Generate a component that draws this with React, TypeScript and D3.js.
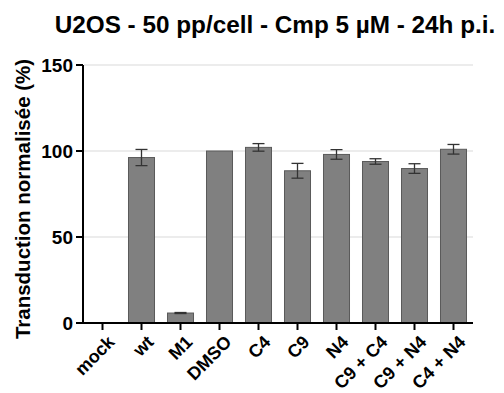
import React from "react";
import * as d3 from "d3";

const categories = ["mock", "wt", "M1", "DMSO", "C4", "C9", "N4", "C9 + C4", "C9 + N4", "C4 + N4"];
const means = [0, 96.2, 5.8, 100, 102.1, 88.5, 98.0, 93.9, 89.8, 101.0];
const errors = [0, 4.7, 0.3, 0, 2.2, 4.3, 2.8, 1.6, 2.8, 2.8];
const yTicks = [0, 50, 100, 150];
const title = "U2OS - 50 pp/cell - Cmp 5 µM - 24h p.i.";
const yLabel = "Transduction normalisée (%)";

const W = 504;
const H = 393;
const FONT = "'Liberation Sans', Arial, Helvetica, sans-serif";

export default function App() {
  const x = d3.scaleBand<string>().domain(categories).range([83, 473]).paddingInner(0.333).paddingOuter(0.1665);
  const y = d3.scaleLinear().domain([0, 150]).range([323, 65]);
  const bw = x.bandwidth();
  const capW = 12;
  return (
    <svg width={W} height={H} style={{ position: "absolute", left: 0, top: 0, background: "#fff" }} fontFamily={FONT}>
      <text x={275} y={33} textAnchor="middle" fontSize={24.3} fontWeight="bold" fill="#000">{title}</text>
      {yTicks.filter(t => t > 0).map(t => (
        <line key={"g" + t} x1={84} x2={473} y1={y(t)} y2={y(t)} stroke="#d9d9d9" strokeWidth={1} />
      ))}
      {categories.map((c, i) => (
        means[i] > 0 ? (
          <rect key={"b" + c} x={x(c)!} y={y(means[i])} width={bw} height={y(0) - y(means[i])}
            fill="#808080" stroke="#5a5a5a" strokeWidth={1} />
        ) : null
      ))}
      {categories.map((c, i) => {
        if (errors[i] <= 0) return null;
        const cx = (x(c)! + bw / 2);
        return (
          <g key={"e" + c} stroke="#333" strokeWidth={1.3}>
            <line x1={cx} x2={cx} y1={y(means[i] + errors[i])} y2={y(means[i] - errors[i])} />
            <line x1={cx - capW / 2} x2={cx + capW / 2} y1={y(means[i] + errors[i])} y2={y(means[i] + errors[i])} />
            <line x1={cx - capW / 2} x2={cx + capW / 2} y1={y(means[i] - errors[i])} y2={y(means[i] - errors[i])} />
          </g>
        );
      })}
      <line x1={83} x2={83} y1={y(150)} y2={y(0) + 1} stroke="#000" strokeWidth={2} />
      <line x1={82} x2={473} y1={y(0)} y2={y(0)} stroke="#000" strokeWidth={2} />
      {yTicks.map(t => (
        <g key={"yt" + t}>
          <line x1={76} x2={83} y1={y(t)} y2={y(t)} stroke="#000" strokeWidth={2} />
          <text x={73} y={y(t)} dy="0.36em" textAnchor="end" fontSize={19} fontWeight="bold">{t}</text>
        </g>
      ))}
      {categories.map(c => {
        const cx = x(c)! + bw / 2;
        return (
          <g key={"xt" + c}>
            <line x1={cx} x2={cx} y1={y(0)} y2={y(0) + 7} stroke="#000" strokeWidth={2} />
            <text transform={`translate(${cx + 4},${y(0) + 11}) rotate(-45)`} textAnchor="end" dy="0.72em"
              fontSize={18} fontWeight="bold">{c}</text>
          </g>
        );
      })}
      <text transform={`translate(30,${(y(0) + y(150)) / 2 + 5}) rotate(-90)`} textAnchor="middle" fontSize={20.5} fontWeight="bold">{yLabel}</text>
    </svg>
  );
}
